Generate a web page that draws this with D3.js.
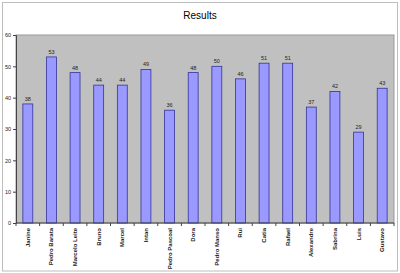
<!DOCTYPE html>
<html>
<head>
<meta charset="utf-8">
<script src="https://cdn.jsdelivr.net/npm/d3@7"></script>
<style>
  body { margin: 0; background: #ffffff; }
  text { font-family: "Liberation Sans", Arial, sans-serif; }
</style>
</head>
<body>
<div id="graph"></div>
<script>
// data
var names = ["Janine", "Pedro Barata", "Marcelo Leite", "Bruno", "Marcel", "Intan",
             "Pedro Pascoal", "Dora", "Pedro Manso", "Rui", "Catia", "Rafael",
             "Alexandre", "Sabrina", "Luis", "Gustavo"];
var scores = [38, 53, 48, 44, 44, 49, 36, 48, 50, 46, 51, 51, 37, 42, 29, 43];
var yTicks = [0, 10, 20, 30, 40, 50, 60];

var W = 400, H = 273;
var margin = {top: 35, right: 6, bottom: 50, left: 16};
var w = W - margin.left - margin.right,
    h = H - margin.top - margin.bottom;

var root = d3.select("#graph").append("svg")
    .attr("width", W)
    .attr("height", H);

// outer frame
root.append("rect")
    .attr("x", 2.5).attr("y", 2.5)
    .attr("width", W - 5).attr("height", H - 4.5)
    .attr("fill", "#ffffff")
    .attr("stroke", "#bdbdbd");

root.append("text")
    .attr("x", 200).attr("y", 19)
    .attr("text-anchor", "middle")
    .attr("font-size", "10px")
    .attr("fill", "#000")
    .text("Results");

var svg = root.append("g")
    .attr("transform", "translate(" + margin.left + "," + margin.top + ")");

var x = d3.scaleBand().domain(names).range([0, w]).paddingInner(0.58).paddingOuter(0.29);
var band = d3.scaleBand().domain(names).range([0, w]);
var y = d3.scaleLinear().domain([0, 60]).range([h, 0]);

// plot background
svg.append("rect")
    .attr("width", w).attr("height", h)
    .attr("fill", "#c0c0c0")
    .attr("stroke", "#999999");

// bars
svg.selectAll(".bar")
    .data(scores)
    .enter().append("rect")
    .attr("class", "bar")
    .attr("x", function(d, i) { return x(names[i]); })
    .attr("y", function(d) { return y(d); })
    .attr("width", x.bandwidth())
    .attr("height", function(d) { return h - y(d); })
    .attr("fill", "#9999ff")
    .attr("stroke", "#333399")
    .attr("stroke-width", 0.8);

// value labels
svg.selectAll(".val")
    .data(scores)
    .enter().append("text")
    .attr("class", "val")
    .attr("x", function(d, i) { return x(names[i]) + x.bandwidth() / 2; })
    .attr("y", function(d) { return y(d) - 3; })
    .attr("text-anchor", "middle")
    .attr("font-size", "5.5px")
    .attr("fill", "#222")
    .text(function(d) { return d; });

// y axis
var yAxis = svg.append("g")
    .call(d3.axisLeft(y).tickValues(yTicks).tickSize(3).tickPadding(2));
yAxis.select(".domain").attr("stroke", "#444");
yAxis.selectAll("line").attr("stroke", "#444");
yAxis.selectAll("text").attr("font-size", "5.5px").attr("fill", "#222");

// x axis line and ticks between categories
var xg = svg.append("g").attr("transform", "translate(0," + h + ")");
xg.append("line").attr("x1", 0).attr("x2", w).attr("stroke", "#444");
xg.selectAll(".tk")
    .data(names.concat(["end"]))
    .enter().append("line")
    .attr("x1", function(d, i) { return i * band.bandwidth(); })
    .attr("x2", function(d, i) { return i * band.bandwidth(); })
    .attr("y1", 0).attr("y2", 3)
    .attr("stroke", "#444");

xg.selectAll(".lbl")
    .data(names)
    .enter().append("text")
    .attr("transform", function(d) {
        return "translate(" + (band(d) + band.bandwidth() / 2 + 2) + ",5) rotate(-90)";
    })
    .attr("text-anchor", "end")
    .attr("font-size", "6px")
    .attr("font-weight", "bold")
    .attr("fill", "#222")
    .text(function(d) { return d; });
</script>
</body>
</html>
